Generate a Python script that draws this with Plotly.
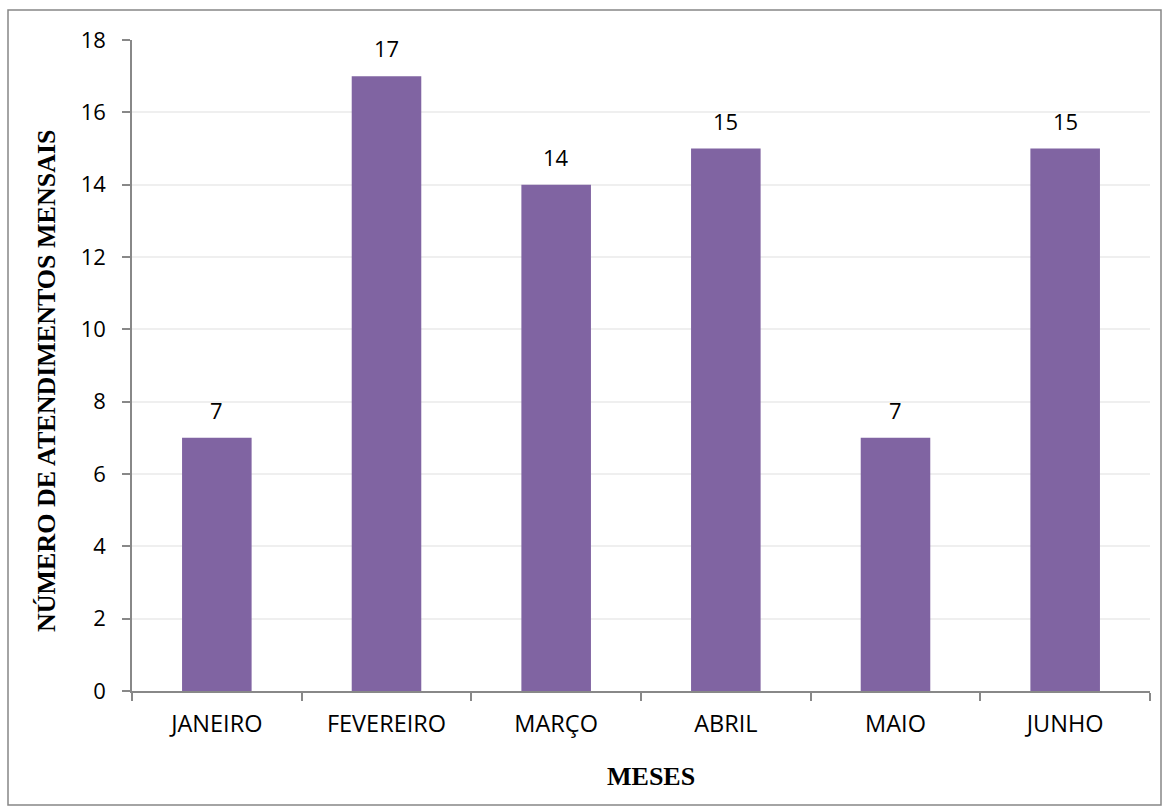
import plotly.graph_objects as go

meses = ["JANEIRO", "FEVEREIRO", "MARÇO", "ABRIL", "MAIO", "JUNHO"]
atendimentos = [7, 17, 14, 15, 7, 15]
y_ticks = [0, 2, 4, 6, 8, 10, 12, 14, 16, 18]

W, H = 1169, 807
L, R, T, B = 132, 19, 40, 116
pw, ph = W - L - R, H - T - B

SANS = "Open Sans, Liberation Sans, sans-serif"
SERIF = "Liberation Serif, Times New Roman, serif"


def px_to_paper_x(px):
    return (px - L) / pw


def px_to_paper_y(py):
    return (H - B - py) / ph


fig = go.Figure(
    go.Bar(
        x=meses,
        y=atendimentos,
        marker=dict(color="#8064A2", line=dict(width=0)),
        width=0.41,
        hoverinfo="x+y",
    )
)

# value labels above each bar
annotations = [
    dict(
        x=m, y=v, xref="x", yref="y",
        text=str(v), showarrow=False,
        yanchor="bottom", yshift=11,
        font=dict(family=SANS, size=22, color="#000000"),
    )
    for m, v in zip(meses, atendimentos)
]

# axis titles
annotations.append(dict(
    xref="paper", yref="paper",
    x=px_to_paper_x(46), y=px_to_paper_y(381),
    xanchor="center", yanchor="middle",
    text="<b>NÚMERO DE ATENDIMENTOS MENSAIS</b>",
    textangle=-90, showarrow=False,
    font=dict(family=SERIF, size=26, color="#000000"),
))
annotations.append(dict(
    xref="paper", yref="paper",
    x=px_to_paper_x(651), y=px_to_paper_y(776),
    xanchor="center", yanchor="middle",
    text="<b>MESES</b>",
    showarrow=False,
    font=dict(family=SERIF, size=26, color="#000000"),
))

fig.update_layout(
    width=W,
    height=H,
    margin=dict(l=L, r=R, t=T, b=B),
    paper_bgcolor="white",
    plot_bgcolor="white",
    showlegend=False,
    font=dict(family=SANS, size=22, color="#000000"),
    annotations=annotations,
    shapes=[
        dict(
            type="rect", xref="paper", yref="paper",
            x0=px_to_paper_x(8), x1=px_to_paper_x(1161),
            y0=px_to_paper_y(805), y1=px_to_paper_y(10),
            line=dict(color="#868686", width=1.5), fillcolor="rgba(0,0,0,0)",
            layer="below",
        )
    ],
)

fig.update_xaxes(
    showline=True, linecolor="#888888", linewidth=1.5,
    ticks="outside", ticklen=8, tickcolor="#888888", tickwidth=1.5,
    tickson="boundaries",
    showgrid=False,
    tickfont=dict(family=SANS, size=23.5),
    ticklabelstandoff=11,
    range=[-0.5, 5.5],
)

fig.update_yaxes(
    range=[0, 18],
    tickvals=y_ticks,
    showline=True, linecolor="#888888", linewidth=1.5,
    ticks="outside", ticklen=8, tickcolor="#888888", tickwidth=1.5,
    showgrid=True, gridcolor="#EFEFEF", gridwidth=1.5,
    zeroline=False,
    tickfont=dict(family=SANS, size=22),
    ticklabelstandoff=12,
)

fig.write_html("out.html")
